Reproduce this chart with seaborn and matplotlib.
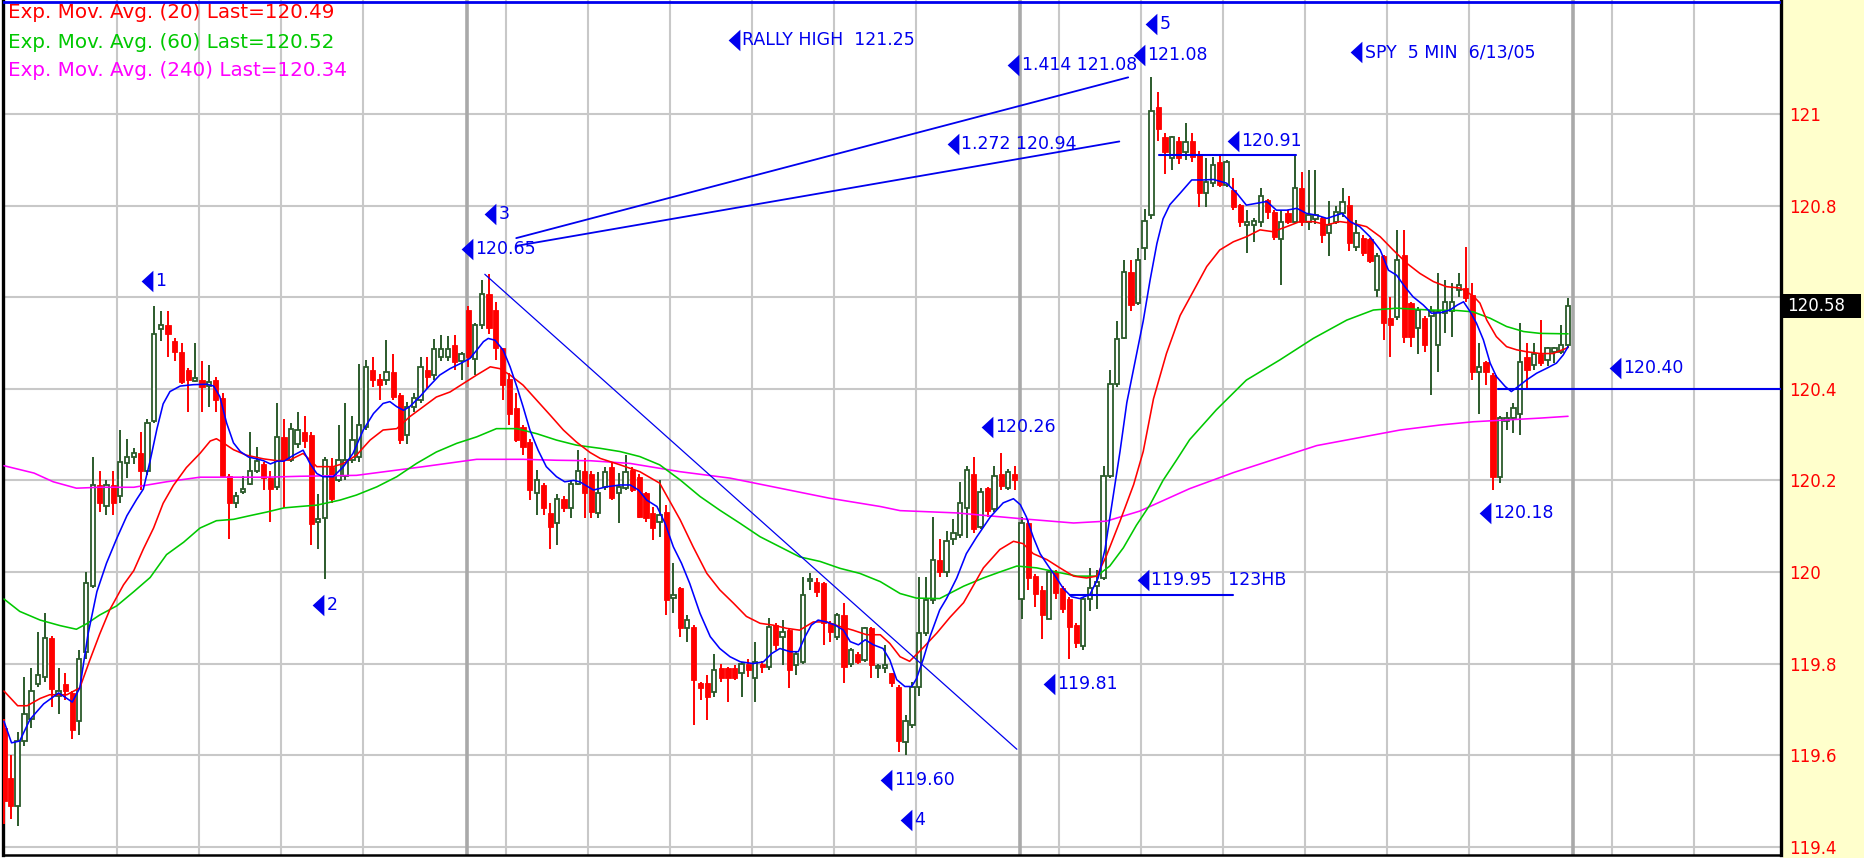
import numpy as np
import matplotlib
matplotlib.use("Agg")
import matplotlib.pyplot as plt
import matplotlib.transforms as mtransforms
from matplotlib.patches import Rectangle
from matplotlib.path import Path
import seaborn as sns

# ---------------- SPY 5-minute bars ----------------
opens = [
    119.66, 119.55, 119.49, 119.63, 119.68, 119.755, 119.77, 119.855, 119.73, 119.755,
    119.735, 119.675, 119.825, 119.97, 120.19, 120.145, 120.19, 120.165, 120.237, 120.25,
    120.26, 120.22, 120.33, 120.53, 120.54, 120.505, 120.48, 120.44, 120.418, 120.42,
    120.406, 120.42, 120.38, 120.21, 120.15, 120.174, 120.193, 120.22, 120.236, 120.205,
    120.185, 120.295, 120.245, 120.28, 120.305, 120.30, 120.11, 120.117, 120.23, 120.20,
    120.21, 120.244, 120.25, 120.317, 120.44, 120.422, 120.419, 120.437, 120.386, 120.30,
    120.36, 120.375, 120.44, 120.43, 120.47, 120.47, 120.495, 120.46, 120.572, 120.466,
    120.539, 120.608, 120.572, 120.488, 120.422, 120.357, 120.317, 120.284, 120.172, 120.19,
    120.128, 120.106, 120.16, 120.139, 120.193, 120.22, 120.215, 120.128, 120.186, 120.23,
    120.172, 120.183, 120.223, 120.208, 120.172, 120.128, 120.11, 120.132, 119.943, 119.964,
    119.877, 119.881, 119.757, 119.757, 119.739, 119.79, 119.79, 119.79, 119.779, 119.80,
    119.768, 119.80, 119.793, 119.884, 119.859, 119.873, 119.797, 119.804, 119.98, 119.979,
    119.975, 119.888, 119.859, 119.906, 119.80, 119.822, 119.808, 119.877, 119.79, 119.79,
    119.779, 119.75, 119.629, 119.667, 119.75, 119.867, 119.938, 120.026, 120.0, 120.071,
    120.08, 120.14, 120.214, 120.098, 120.183, 120.138, 120.214, 120.183, 120.214, 119.942,
    120.107, 119.991, 119.96, 119.898, 120.0, 119.964, 119.942, 119.884, 119.839, 119.942,
    119.97, 119.986, 120.209, 120.41, 120.512, 120.655, 120.588, 120.708, 120.779, 121.016,
    120.949, 120.904, 120.94, 120.917, 120.94, 120.91, 120.827, 120.849, 120.896, 120.845,
    120.834, 120.801, 120.757, 120.757, 120.765, 120.812, 120.787, 120.728, 120.783, 120.765,
    120.838, 120.765, 120.77, 120.772, 120.74, 120.765, 120.783, 120.801, 120.71, 120.73,
    120.728, 120.616, 120.689, 120.554, 120.557, 120.692, 120.587, 120.532, 120.554, 120.56,
    120.496, 120.565, 120.57, 120.616, 120.62, 120.605, 120.437, 120.459, 120.43, 120.208,
    120.33, 120.336, 120.346, 120.47, 120.452, 120.477, 120.463, 120.481, 120.481, 120.496,
]
highs = [
    119.68, 119.60, 119.65, 119.77, 119.79, 119.87, 119.91, 119.86, 119.79, 119.78,
    119.74, 119.83, 120.00, 120.25, 120.22, 120.20, 120.22, 120.31, 120.29, 120.27,
    120.305, 120.333, 120.58, 120.57, 120.57, 120.51, 120.50, 120.445, 120.50, 120.46,
    120.453, 120.425, 120.39, 120.215, 120.175, 120.209, 120.305, 120.274, 120.24, 120.22,
    120.37, 120.333, 120.325, 120.35, 120.34, 120.305, 120.17, 120.25, 120.248, 120.32,
    120.37, 120.34, 120.455, 120.463, 120.47, 120.433, 120.506, 120.477, 120.39, 120.372,
    120.39, 120.47, 120.47, 120.508, 120.517, 120.515, 120.517, 120.48, 120.58, 120.543,
    120.637, 120.65, 120.59, 120.49, 120.434, 120.39, 120.32, 120.29, 120.222, 120.195,
    120.15, 120.17, 120.165, 120.20, 120.266, 120.248, 120.22, 120.219, 120.23, 120.241,
    120.216, 120.256, 120.23, 120.215, 120.175, 120.143, 120.20, 120.146, 120.019, 119.968,
    119.906, 119.885, 119.76, 119.775, 119.822, 119.80, 119.793, 119.797, 119.804, 119.81,
    119.848, 119.805, 119.899, 119.888, 119.895, 119.877, 119.826, 119.99, 119.997, 119.986,
    119.979, 119.892, 119.91, 119.932, 119.833, 119.825, 119.881, 119.881, 119.80, 119.841,
    119.78, 119.753, 119.688, 119.759, 119.988, 119.99, 120.12, 120.071, 120.089, 120.116,
    120.196, 120.232, 120.25, 120.183, 120.185, 120.232, 120.26, 120.225, 120.232, 120.12,
    120.116, 119.995, 119.969, 120.004, 120.004, 119.969, 119.946, 119.888, 119.946, 120.009,
    120.004, 120.232, 120.441, 120.548, 120.681, 120.681, 120.708, 120.793, 121.08, 121.047,
    120.958, 120.953, 120.95, 120.98, 120.958, 120.92, 120.903, 120.907, 120.91, 120.90,
    120.86, 120.803, 120.79, 120.774, 120.838, 120.815, 120.79, 120.79, 120.79, 120.91,
    120.874, 120.878, 120.878, 120.775, 120.809, 120.80, 120.838, 120.82, 120.768, 120.735,
    120.73, 120.696, 120.692, 120.60, 120.746, 120.746, 120.59, 120.579, 120.56, 120.58,
    120.652, 120.637, 120.63, 120.652, 120.71, 120.63, 120.50, 120.46, 120.435, 120.34,
    120.35, 120.368, 120.543, 120.50, 120.50, 120.55, 120.492, 120.492, 120.54, 120.598,
]
lows = [
    119.45, 119.46, 119.445, 119.62, 119.66, 119.75, 119.76, 119.705, 119.69, 119.72,
    119.635, 119.645, 119.81, 119.965, 120.13, 120.125, 120.125, 120.15, 120.205, 120.236,
    120.18, 120.212, 120.325, 120.505, 120.47, 120.46, 120.41, 120.35, 120.415, 120.35,
    120.36, 120.35, 120.205, 120.073, 120.14, 120.17, 120.19, 120.216, 120.18, 120.11,
    120.18, 120.14, 120.24, 120.27, 120.27, 120.06, 120.05, 119.985, 120.15, 120.197,
    120.20, 120.237, 120.24, 120.31, 120.404, 120.375, 120.408, 120.375, 120.28, 120.28,
    120.35, 120.368, 120.40, 120.42, 120.46, 120.46, 120.44, 120.419, 120.448, 120.43,
    120.53, 120.52, 120.463, 120.375, 120.321, 120.284, 120.255, 120.157, 120.124, 120.124,
    120.051, 120.058, 120.13, 120.117, 120.19, 120.117, 120.117, 120.117, 120.18, 120.157,
    120.106, 120.18, 120.175, 120.117, 120.11, 120.07, 120.077, 119.906, 119.91, 119.859,
    119.848, 119.666, 119.721, 119.677, 119.728, 119.76, 119.717, 119.764, 119.728, 119.77,
    119.717, 119.78, 119.786, 119.83, 119.797, 119.746, 119.775, 119.80, 119.96, 119.946,
    119.84, 119.848, 119.852, 119.757, 119.793, 119.80, 119.804, 119.768, 119.768, 119.78,
    119.75, 119.607, 119.60, 119.66, 119.73, 119.86, 119.93, 119.99, 119.99, 120.06,
    120.075, 120.075, 120.085, 120.093, 120.12, 120.13, 120.18, 120.18, 120.18, 119.897,
    119.96, 119.924, 119.853, 119.897, 119.94, 119.91, 119.81, 119.835, 119.83, 119.915,
    119.92, 119.982, 120.205, 120.405, 120.508, 120.57, 120.583, 120.681, 120.77, 120.94,
    120.868, 120.877, 120.89, 120.90, 120.896, 120.798, 120.798, 120.84, 120.84, 120.84,
    120.79, 120.754, 120.696, 120.72, 120.754, 120.77, 120.725, 120.627, 120.76, 120.76,
    120.755, 120.747, 120.76, 120.718, 120.689, 120.76, 120.775, 120.70, 120.70, 120.69,
    120.675, 120.60, 120.507, 120.47, 120.55, 120.50, 120.492, 120.477, 120.48, 120.386,
    120.437, 120.521, 120.514, 120.60, 120.59, 120.42, 120.346, 120.408, 120.18, 120.195,
    120.31, 120.303, 120.299, 120.398, 120.44, 120.45, 120.45, 120.456, 120.475, 120.49,
]
closes = [
    119.50, 119.49, 119.63, 119.69, 119.74, 119.775, 119.855, 119.745, 119.74, 119.74,
    119.655, 119.81, 119.975, 120.19, 120.15, 120.19, 120.15, 120.24, 120.25, 120.26,
    120.22, 120.325, 120.52, 120.54, 120.52, 120.48, 120.415, 120.42, 120.423, 120.405,
    120.414, 120.375, 120.21, 120.15, 120.166, 120.181, 120.22, 120.243, 120.205, 120.182,
    120.295, 120.245, 120.313, 120.31, 120.285, 120.105, 120.115, 120.244, 120.16, 120.244,
    120.245, 120.288, 120.32, 120.448, 120.42, 120.408, 120.437, 120.383, 120.288, 120.36,
    120.38, 120.448, 120.426, 120.486, 120.486, 120.487, 120.459, 120.476, 120.47, 120.539,
    120.608, 120.532, 120.488, 120.408, 120.346, 120.288, 120.273, 120.179, 120.20, 120.14,
    120.099, 120.16, 120.14, 120.193, 120.22, 120.172, 120.132, 120.172, 120.219, 120.161,
    120.186, 120.219, 120.179, 120.121, 120.117, 120.095, 120.124, 119.939, 119.95, 119.877,
    119.895, 119.764, 119.746, 119.728, 119.786, 119.768, 119.768, 119.768, 119.80, 119.786,
    119.804, 119.793, 119.881, 119.841, 119.87, 119.786, 119.822, 119.95, 119.982, 119.957,
    119.888, 119.87, 119.906, 119.793, 119.83, 119.804, 119.877, 119.797, 119.793, 119.797,
    119.757, 119.63, 119.675, 119.75, 119.867, 119.938, 120.026, 119.999, 120.068, 120.085,
    120.151, 120.223, 120.093, 120.174, 120.133, 120.209, 120.187, 120.218, 120.20, 120.107,
    119.986, 119.951, 119.906, 120.0, 119.955, 119.92, 119.88, 119.844, 119.942, 119.964,
    119.978, 120.209, 120.41, 120.508, 120.655, 120.583, 120.681, 120.766, 121.007, 120.967,
    120.917, 120.949, 120.904, 120.938, 120.907, 120.827, 120.852, 120.888, 120.845, 120.896,
    120.798, 120.765, 120.765, 120.767, 120.82, 120.787, 120.732, 120.765, 120.765, 120.838,
    120.765, 120.779, 120.779, 120.736, 120.757, 120.787, 120.808, 120.718, 120.74, 120.696,
    120.678, 120.689, 120.543, 120.539, 120.681, 120.514, 120.514, 120.572, 120.496, 120.57,
    120.568, 120.59, 120.59, 120.627, 120.598, 120.437, 120.448, 120.437, 120.208, 120.336,
    120.336, 120.357, 120.459, 120.441, 120.477, 120.456, 120.488, 120.488, 120.496, 120.58,
]

# ---------------- moving averages (bar position, price) ----------------
fast_x = [0, 1.1, 2.3, 3.8, 5.8, 8, 10, 11.1, 12.3, 13.6,
          15, 16.5, 18, 19.4, 20.4, 21.4, 22.4, 23.3, 24.3, 25.8,
          27.7, 29.7, 30.7, 31.6, 32.6, 33.6, 34.6, 35.8, 37, 38,
          39, 40, 41, 42.4, 43.8, 44.8, 45.8, 46.7, 48.2, 49.7,
          51.1, 52.6, 54.1, 55.5, 56.5, 57.5, 58.5, 59.4, 60.9, 62.4,
          63.8, 65.3, 66.8, 68.2, 69.2, 70.2, 70.9, 71.9, 73.1, 74.1,
          75.1, 76, 77, 78.2, 79.4, 80.9, 82.1, 83.4, 84.3, 86.3,
          88.2, 90.2, 91.7, 92.9, 94.1, 95.6, 96.8, 98, 99.2, 100.4,
          101.9, 103.4, 104.8, 106.3, 107.8, 109.7, 111.2, 112.4, 113.6, 115.1,
          116.3, 117.3, 118.2, 119.2, 120.4, 121.7, 122.9, 123.9, 125.1, 126.1,
          127.3, 128.7, 129.7, 130.7, 131.9, 132.9, 133.6, 134.6, 135.6, 137,
          138, 139.5, 140.9, 142.4, 144.4, 146.3, 147.8, 148.8, 149.7, 150.7,
          151.7, 152.9, 154.1, 155.1, 156.3, 157.5, 159, 160.2, 161.2, 162.2,
          163.4, 164.4, 165.6, 166.8, 167.8, 168.8, 169.7, 170.7, 172.2, 173.9,
          175.6, 177.1, 179, 180.5, 181.9, 183.4, 184.9, 186.3, 187.8, 189.3,
          190.7, 192.2, 193.7, 195.1, 195.9, 197.1, 198.5, 200, 201.5, 202.7,
          203.9, 205.1, 206.3, 207.8, 209, 210.3, 211.7, 212.8, 213.7, 214.6,
          215.6, 216.6, 217.6, 218.5, 219.8, 220.7, 221.7, 222.9, 224.4, 225.9,
          227.3, 228.3, 229]
fast_y = [119.674, 119.627, 119.631, 119.678, 119.712, 119.736, 119.716, 119.747, 119.864, 119.957,
          120.019, 120.073, 120.123, 120.158, 120.181, 120.243, 120.313, 120.367, 120.394, 120.406,
          120.409, 120.41, 120.406, 120.383, 120.325, 120.282, 120.263, 120.251, 120.247, 120.243,
          120.236, 120.242, 120.242, 120.255, 120.266, 120.237, 120.215, 120.208, 120.208, 120.23,
          120.259, 120.31, 120.346, 120.368, 120.372, 120.361, 120.353, 120.361, 120.383, 120.408,
          120.43, 120.444, 120.455, 120.466, 120.484, 120.503, 120.51, 120.506, 120.484, 120.448,
          120.404, 120.361, 120.31, 120.266, 120.23, 120.208, 120.197, 120.2, 120.197, 120.179,
          120.186, 120.19, 120.19, 120.179, 120.157, 120.143, 120.106, 120.055, 120.019, 119.975,
          119.91, 119.859, 119.833, 119.815, 119.804, 119.8, 119.804, 119.822, 119.833, 119.826,
          119.826, 119.859, 119.884, 119.895, 119.891, 119.884, 119.873, 119.848, 119.841, 119.852,
          119.841, 119.833, 119.808, 119.765, 119.75, 119.75, 119.767, 119.81, 119.86, 119.917,
          119.942, 119.987, 120.04, 120.076, 120.12, 120.151, 120.16, 120.147, 120.12, 120.076,
          120.04, 120.013, 119.987, 119.964, 119.946, 119.942, 119.951, 119.987, 120.049, 120.147,
          120.263, 120.37, 120.459, 120.548, 120.637, 120.717, 120.771, 120.802, 120.827, 120.856,
          120.856, 120.857, 120.849, 120.827, 120.801, 120.805, 120.809, 120.79, 120.79, 120.794,
          120.783, 120.779, 120.772, 120.779, 120.783, 120.765, 120.754, 120.732, 120.703, 120.659,
          120.648, 120.623, 120.601, 120.583, 120.565, 120.566, 120.572, 120.583, 120.59, 120.57,
          120.543, 120.507, 120.456, 120.427, 120.405, 120.394, 120.405, 120.419, 120.434, 120.445,
          120.456, 120.474, 120.492]

ema20_x = [0, 2, 3.4, 5.3, 6.7, 9.2, 11.1, 12.6, 14, 15.5,
           17.5, 19, 20.4, 21.9, 23.3, 24.8, 26.7, 28.7, 30.2, 31.1,
           32.1, 33.6, 35.5, 38, 40, 41.9, 43.8, 45.8, 48.2, 49.7,
           51.6, 53.6, 55.5, 57.5, 59.4, 61.4, 63.3, 65.3, 67.3, 69.2,
           71.2, 72.6, 74.1, 76, 78, 80, 81.9, 83.8, 85.8, 87.3,
           90.2, 93.1, 96, 97.5, 99, 100.9, 102.9, 104.8, 106.8, 108.7,
           110.7, 112.6, 114.6, 116.5, 118.5, 120.4, 122.4, 124.3, 126.3, 128.3,
           129.7, 131.2, 132.6, 134.6, 136.6, 138.5, 140.5, 143.4, 145.8, 147.8,
           149.2, 150.7, 152.7, 154.6, 156.6, 158.5, 160, 161.4, 163.4, 165.4,
           166.8, 168.3, 170.2, 172.2, 174.1, 176.1, 178, 180, 181.9, 183.9,
           185.8, 187.8, 189.7, 191.7, 193.7, 195.6, 197.6, 199.5, 201.5, 203.4,
           205.4, 207.3, 209.3, 211.2, 213.2, 215.1, 216.1, 217.1, 218.5, 220,
           221.5, 222.9, 224.9, 226.8, 229]
ema20_y = [119.74, 119.708, 119.708, 119.724, 119.732, 119.732, 119.747, 119.809, 119.864, 119.918,
           119.972, 120.003, 120.05, 120.096, 120.15, 120.189, 120.228, 120.259, 120.286, 120.291,
           120.282, 120.267, 120.255, 120.247, 120.243, 120.245, 120.259, 120.23, 120.23, 120.237,
           120.255, 120.288, 120.31, 120.313, 120.339, 120.361, 120.382, 120.393, 120.412, 120.43,
           120.448, 120.444, 120.43, 120.408, 120.375, 120.342, 120.31, 120.284, 120.261, 120.248,
           120.234, 120.219, 120.194, 120.154, 120.114, 120.055, 119.997, 119.961, 119.932, 119.903,
           119.888, 119.884, 119.877, 119.873, 119.891, 119.891, 119.881, 119.873, 119.863, 119.863,
           119.844, 119.815, 119.805, 119.835, 119.867, 119.901, 119.933, 120.009, 120.049, 120.067,
           120.062, 120.04, 120.027, 120.009, 119.991, 119.987, 119.991, 120.035, 120.111, 120.191,
           120.263, 120.378, 120.477, 120.56, 120.612, 120.667, 120.703, 120.721, 120.732, 120.747,
           120.743, 120.754, 120.765, 120.765, 120.758, 120.765, 120.761, 120.754, 120.732, 120.703,
           120.674, 120.652, 120.634, 120.623, 120.62, 120.603, 120.587, 120.55, 120.514, 120.492,
           120.485, 120.481, 120.477, 120.477, 120.49]

ema60_x = [0, 2.3, 5.3, 8.2, 10.6, 12.1, 14, 16.5, 19, 21.4,
           23.8, 26.3, 28.7, 31.1, 33.6, 36, 38.5, 41, 43.3, 45.8,
           49.2, 51.6, 54.6, 57.5, 60.4, 63.3, 66.3, 69.2, 72.1, 75.1,
           78, 80.9, 83.8, 87.3, 90.2, 93.1, 96, 99, 101.9, 104.8,
           107.8, 110.7, 113.6, 116.5, 119.5, 122.4, 125.3, 128.3, 131.2, 133.6,
           137, 140.5, 143.4, 145.8, 148.3, 151.2, 154.1, 157.1, 160, 161.9,
           163.9, 165.8, 167.8, 169.7, 171.7, 173.6, 177.5, 181.9, 186.8, 191.7,
           196.6, 200.5, 203.9, 208.8, 212.7, 215.1, 217.6, 220, 222.5, 224.9, 229]
ema60_y = [119.941, 119.914, 119.895, 119.883, 119.875, 119.887, 119.906, 119.926, 119.957, 119.988,
           120.038, 120.065, 120.096, 120.112, 120.115, 120.123, 120.131, 120.14, 120.143, 120.146,
           120.157, 120.168, 120.186, 120.208, 120.237, 120.262, 120.281, 120.295, 120.313, 120.313,
           120.302, 120.288, 120.277, 120.27, 120.263, 120.252, 120.234, 120.201, 120.165, 120.135,
           120.106, 120.077, 120.055, 120.033, 120.023, 120.008, 119.997, 119.979, 119.953, 119.943,
           119.942, 119.969, 119.987, 120.0, 120.013, 120.009, 120.0, 119.991, 119.991, 120.013,
           120.053, 120.102, 120.147, 120.2, 120.245, 120.289, 120.354, 120.419, 120.463, 120.51,
           120.55, 120.572, 120.576, 120.572, 120.571, 120.568, 120.554, 120.536, 120.525, 120.521, 120.52]

ema240_x = [0, 4.4, 7.2, 10.6, 14, 19, 23.8, 28.7, 33.6, 38.5,
            43.3, 51.6, 61.4, 69.2, 76, 80.9, 85.8, 91.7, 99, 106.3,
            113.6, 120.9, 128.3, 131.2, 139.5, 149.2, 156.6, 161.4, 166.3, 173.6,
            180, 192.2, 204.4, 210.3, 215.1, 220, 224.9, 229]
ema240_y = [120.232, 120.216, 120.197, 120.183, 120.185, 120.185, 120.197, 120.207, 120.207, 120.207,
            120.209, 120.211, 120.23, 120.246, 120.246, 120.244, 120.243, 120.237, 120.219, 120.205,
            120.183, 120.161, 120.143, 120.134, 120.129, 120.116, 120.107, 120.111, 120.133, 120.182,
            120.217, 120.276, 120.31, 120.321, 120.328, 120.332, 120.336, 120.34]

legend_labels = ["Exp. Mov. Avg. (20) Last=120.49",
                 "Exp. Mov. Avg. (60) Last=120.52",
                 "Exp. Mov. Avg. (240) Last=120.34"]

# ---------------- axis furniture ----------------
price_ticks = [119.4, 119.6, 119.8, 120.0, 120.2, 120.4, 120.6, 120.8, 121.0]
price_tick_labels = ["119.4", "119.6", "119.8", "120", "120.2", "120.4", "", "120.8", "121"]
session_breaks = [67.75, 148.75, 229.75]
hour_lines = [16.5, 28.5, 40.5, 52.5,
              73.5, 85.5, 97.5, 109.5, 121.5, 133.5,
              154.5, 166.5, 178.5, 190.5, 202.5, 214.5,
              235.5, 247.5]

# ---------------- drawing tools ----------------
rally_high = 121.25
trend_x = [70.4, 148.3]
trend_y = [120.65, 119.613]
fib1414_x = [75.0, 164.6]
fib1414_y = [120.729, 121.08]
fib1272_x = [75.0, 163.3]
fib1272_y = [120.712, 120.94]
level_y = [120.91, 119.95, 120.40]
level_x0 = [169.1, 156.1, 218.8]
level_x1 = [189.2, 180.0, 262.0]

flag_x = [20.1, 45.1, 70.3, 66.9, 106.0, 146.9, 138.0, 167.1, 165.3,
          197.1, 179.0, 143.0, 235.0, 216.0, 165.9, 152.1, 128.3, 131.2]
flag_y = [120.636, 119.928, 120.782, 120.706, 121.161, 121.106, 120.935, 121.197, 121.129,
          121.135, 120.94, 120.317, 120.445, 120.129, 119.983, 119.755, 119.546, 119.459]
flag_text = ["1", "2", "3", "120.65", "RALLY HIGH  121.25", "1.414 121.08", "1.272 120.94",
             "5", "121.08", "SPY  5 MIN  6/13/05", "120.91", "120.26", "120.40", "120.18",
             "119.95   123HB", "119.81", "119.60", "4"]

# ---------------- figure ----------------
sns.set_theme(style="white")
plt.rcParams["font.family"] = ["DejaVu Sans"]

W, H = 1864, 858
fig = plt.figure(figsize=(W / 100, H / 100), dpi=100)
fig.patch.set_facecolor("white")
fig.patches.append(Rectangle((1783 / W, 0), 1 - 1783 / W, 1, transform=fig.transFigure,
                             facecolor="#ffffcc", edgecolor="none", zorder=-5))

ax = fig.add_axes([3 / W, 3 / H, 1778 / W, 855 / H])
ax.set_zorder(2)
ax.set_facecolor("white")
X0, X1 = -0.146, 260.18
Y0, Y1 = 119.3821, 121.2489
ax.set_xlim(X0, X1)
ax.set_ylim(Y0, Y1)
px_per_price = 855 / (Y1 - Y0)

GRID = "#c8c8c8"
ax.hlines(price_ticks, X0, X1, color=GRID, lw=1.5, zorder=1)
ax.vlines(hour_lines, Y0, Y1, color=GRID, lw=1.5, zorder=1)
ax.vlines(session_breaks, Y0, Y1, color="#a9a9a9", lw=2.6, zorder=1)

# candles
o = np.array(opens); h = np.array(highs); l = np.array(lows); c = np.array(closes)
x = np.arange(len(c))
up = c >= o
GREEN_C = "#2b5a2b"
RED_C = "#ff0000"
ax.vlines(x[up], l[up], h[up], color=GREEN_C, lw=1.4, zorder=3)
ax.vlines(x[~up], l[~up], h[~up], color=RED_C, lw=1.4, zorder=3)
body_lo = np.minimum(o, c)
body_h = np.maximum(np.abs(c - o), 0.004)
ax.bar(x[up], body_h[up], bottom=body_lo[up], width=0.64, facecolor="white",
       edgecolor=GREEN_C, linewidth=1.3, zorder=3.5)
ax.bar(x[~up], body_h[~up], bottom=body_lo[~up], width=0.76, facecolor=RED_C,
       edgecolor=RED_C, linewidth=0.6, zorder=3.5)

# moving averages
for xs, ys, col in [(ema240_x, ema240_y, "#ff00ff"),
                    (ema60_x, ema60_y, "#00c800"),
                    (ema20_x, ema20_y, "#ff0000"),
                    (fast_x, fast_y, "#0000ff")]:
    sns.lineplot(x=xs, y=ys, ax=ax, color=col, linewidth=1.15, sort=False,
                 estimator=None, zorder=4)

# drawing tools
BLUE = "#0000ee"
ax.plot(trend_x, trend_y, color=BLUE, lw=0.9, zorder=5)
ax.plot(fib1414_x, fib1414_y, color=BLUE, lw=1.3, zorder=5)
ax.plot(fib1272_x, fib1272_y, color=BLUE, lw=1.3, zorder=5)
for yv, a, b in zip(level_y, level_x0, level_x1):
    ax.plot([a, b], [yv, yv], color=BLUE, lw=1.5, zorder=5)
shift = ax.transData + mtransforms.ScaledTranslation(0, -3 / 100, fig.dpi_scale_trans)
ax.plot([X0, X1], [rally_high, rally_high], color=BLUE, lw=2.0, transform=shift, zorder=7)

# flags
tri = Path([(-0.545, 0.0), (0.545, 1.0), (0.545, -1.0), (-0.545, 0.0)],
           [Path.MOVETO, Path.LINETO, Path.LINETO, Path.CLOSEPOLY])
ax.scatter(np.array(flag_x) + 0.9, flag_y, marker=tri, s=15.5 ** 2, color=BLUE,
           linewidths=0, zorder=6)
for fx, fy, ft in zip(flag_x, flag_y, flag_text):
    ax.text(fx + 2.1, fy, ft, color=BLUE, fontsize=12.5, va="center", ha="left", zorder=6)

# moving-average legend
legend_rows_px = [12, 43, 71]
for lab, col, ypx in zip(legend_labels, ["#ff0000", "#00c800", "#ff00ff"], legend_rows_px):
    ax.text(8 / W, 1 - ypx / H, lab, color=col, fontsize=14.3,
            va="center", ha="left", transform=fig.transFigure, zorder=6)

# right price scale
ax.yaxis.tick_right()
ax.set_yticks(price_ticks)
ax.set_yticklabels(price_tick_labels)
ax.set_xticks([])
ax.tick_params(axis="y", length=0, pad=6, labelsize=12, labelcolor="#ff0000")

# last-price tag
tag_tr = mtransforms.blended_transform_factory(ax.transAxes, ax.transData)
tag_h = 24 / px_per_price
ax.add_patch(Rectangle((1.0 + 2 / 1778, c[-1] - tag_h / 2), 78 / 1778, tag_h,
                       transform=tag_tr, facecolor="black", edgecolor="none",
                       clip_on=False, zorder=9))
ax.text(1.0 + 6 / 1778, c[-1], f"{c[-1]:.2f}", color="white", fontsize=12, va="center",
        ha="left", transform=tag_tr, clip_on=False, zorder=10)

for side in ["left", "right"]:
    ax.spines[side].set_color("black")
    ax.spines[side].set_linewidth(2.4)
ax.spines["bottom"].set_color("black")
ax.spines["bottom"].set_linewidth(1.8)
ax.spines["top"].set_visible(False)
ax.grid(False)

fig.savefig("out.png", dpi=100)
